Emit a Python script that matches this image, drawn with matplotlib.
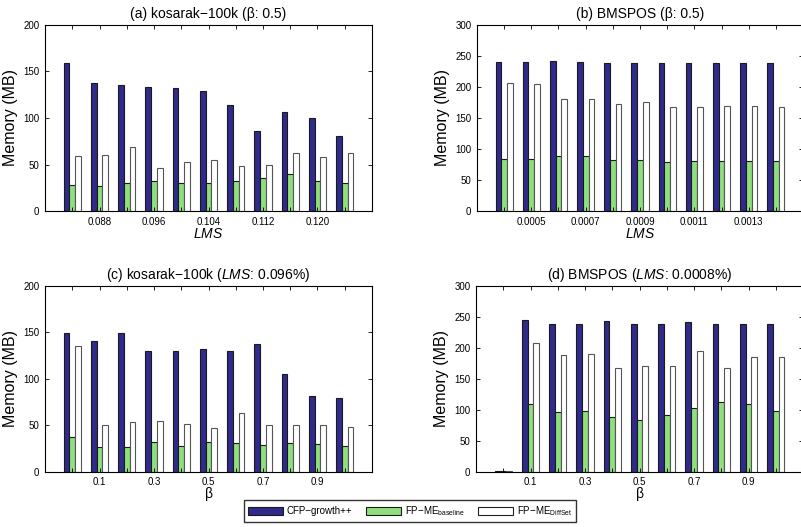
import numpy as np
import matplotlib
matplotlib.use('Agg')
import matplotlib.pyplot as plt
from matplotlib.patches import Patch

plt.rcParams['font.family'] = ['Liberation Sans', 'DejaVu Sans']
plt.rcParams['mathtext.fontset'] = 'custom'
plt.rcParams['mathtext.rm'] = 'Liberation Sans'
plt.rcParams['mathtext.it'] = 'Liberation Sans:italic'
plt.rcParams['axes.unicode_minus'] = True

# (a) kosarak-100k, varying LMS
lms_a = [0.084, 0.088, 0.092, 0.096, 0.100, 0.104, 0.108, 0.112, 0.116, 0.120, 0.124]
cfp_a = [159, 138, 136, 133, 132, 129, 114, 86, 106, 100, 81]
base_a = [28, 27, 30, 32, 30, 30, 32, 35, 40, 32, 30]
diff_a = [59, 60, 69, 46, 53, 55, 48, 50, 62, 58, 62]

# (b) BMSPOS, varying LMS
lms_b = [0.0004, 0.0005, 0.0006, 0.0007, 0.0008, 0.0009, 0.0010, 0.0011, 0.0012, 0.0013, 0.0014]
cfp_b = [240, 240, 242, 241, 239, 239, 239, 239, 239, 239, 239]
base_b = [84, 84, 88, 88, 83, 83, 79, 80, 80, 80, 80]
diff_b = [207, 205, 180, 180, 173, 176, 168, 168, 169, 169, 168]

# (c) kosarak-100k, varying beta
beta = [0.0, 0.1, 0.2, 0.3, 0.4, 0.5, 0.6, 0.7, 0.8, 0.9, 1.0]
cfp_c = [149, 140, 149, 130, 130, 132, 130, 137, 105, 81, 79]
base_c = [37, 27, 27, 32, 28, 32, 31, 29, 31, 30, 28]
diff_c = [135, 50, 53, 54, 51, 47, 63, 50, 50, 50, 48]

# (d) BMSPOS, varying beta
cfp_d = [1, 245, 239, 238, 243, 238, 239, 241, 239, 239, 239]
base_d = [1, 109, 96, 98, 89, 83, 92, 103, 112, 109, 98]
diff_d = [1, 208, 189, 190, 168, 170, 170, 194, 168, 185, 185]

labels = ['CFP\u2212growth++', 'FP\u2212ME$_{\\mathrm{baseline}}$', 'FP\u2212ME$_{\\mathrm{DiffSet}}$']
colors = ['#2f2a8c', '#8fdf7e', '#ffffff']
edges = ['#1a1a1a', '#1a1a1a', '#555555']

fig = plt.figure(figsize=(8.01, 5.27), dpi=100)

boxes = [
    [0.0562, 0.5996, 0.4082, 0.3530],
    [0.5955, 0.5996, 0.4070, 0.3530],
    [0.0562, 0.1049, 0.4082, 0.3530],
    [0.5943, 0.1049, 0.4082, 0.3530],
]

panels = [
    (lms_a, [cfp_a, base_a, diff_a], 200, '(a) kosarak\u2212100k (\u03b2: 0.5)', '$LMS$', '%.3f'),
    (lms_b, [cfp_b, base_b, diff_b], 300, '(b) BMSPOS (\u03b2: 0.5)', '$LMS$', '%.4f'),
    (beta, [cfp_c, base_c, diff_c], 200, '(c) kosarak\u2212100k ($LMS$: 0.096%)', '\u03b2', '%.1f'),
    (beta, [cfp_d, base_d, diff_d], 300, '(d) BMSPOS ($LMS$: 0.0008%)', '\u03b2', '%.1f'),
]

for box, (xs, series, ymax, title, xlab, fmt) in zip(boxes, panels):
    ax = fig.add_axes(box)
    xs = np.array(xs)
    step = xs[1] - xs[0]
    w = 0.21 * step
    for i, ys in enumerate(series):
        ax.bar(xs + (i - 1) * w, ys, width=w, color=colors[i],
               edgecolor=edges[i], linewidth=0.8)
    ax.set_xlim(xs[0] - step, xs[-1] + step)
    ax.set_ylim(0, ymax)
    ax.set_xticks(xs)
    ax.set_xticklabels([fmt % v if k % 2 == 1 else '' for k, v in enumerate(xs)])
    ax.set_yticks(np.arange(0, ymax + 1, 50))
    ax.tick_params(direction='in', top=True, right=True, length=3, width=0.6,
                   labelsize=7, pad=4)
    for s in ax.spines.values():
        s.set_linewidth(0.8)
    ax.set_title(title, fontsize=10, pad=5)
    ax.set_xlabel(xlab, fontsize=10, labelpad=0)
    ax.set_ylabel('Memory (MB)', fontsize=11.5, labelpad=4)

handles = [Patch(facecolor=colors[i], edgecolor=edges[i] if i < 2 else '#222222',
                 linewidth=0.8) for i in range(3)]
fig.legend(handles, labels, loc='center', bbox_to_anchor=(0.512, 0.0304), ncol=3,
           fontsize=7, frameon=True, fancybox=False, edgecolor='black',
           handlelength=3.6, handleheight=0.9, handletextpad=0.4,
           columnspacing=1.4, borderpad=0.4)

fig.savefig('out.png', dpi=100)
